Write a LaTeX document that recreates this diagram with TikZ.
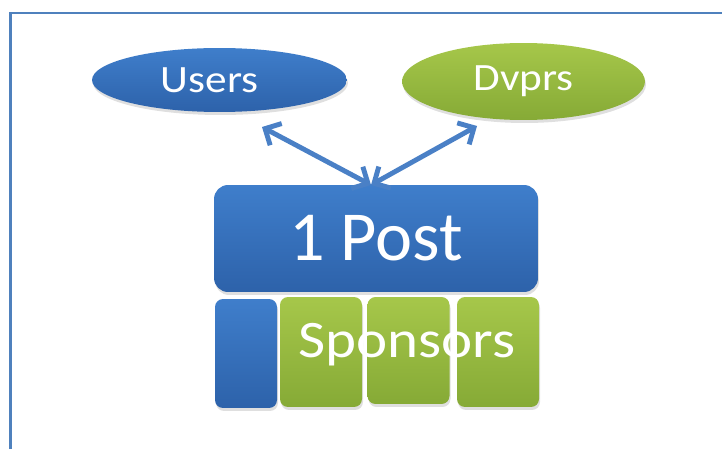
\documentclass[tikz,border=0pt]{standalone}
\usepackage{fontspec}
\setmainfont{Carlito}
\newfontfamily\wideface[FakeStretch=1.12]{Carlito}
\usepackage{tikz}
\usepackage{xcolor}
\usetikzlibrary{shapes}
\usetikzlibrary{shadows}
\usetikzlibrary{arrows.meta}
\usetikzlibrary{positioning}

\definecolor{frameblue}{HTML}{4F81BD}
\definecolor{boxbluetop}{HTML}{3F7ECB}
\definecolor{boxbluebot}{HTML}{2D62AA}
\definecolor{boxgreentop}{HTML}{A6C74A}
\definecolor{boxgreenbot}{HTML}{86AA36}
\definecolor{arrowblue}{HTML}{4A80C6}

\tikzset{
  softshadow/.style={drop shadow={opacity=0.25, shadow xshift=0.02cm, shadow yshift=-0.06cm}},
  bluefill/.style={top color=boxbluetop, bottom color=boxbluebot, softshadow},
  greenfill/.style={top color=boxgreentop, bottom color=boxgreenbot, softshadow},
  oval/.style={ellipse, inner sep=0pt, text=white, font=\wideface\fontsize{22}{24}\selectfont},
  tile/.style={rounded corners=0.16cm, inner sep=0pt},
  link/.style={arrowblue, line width=2.8pt, {Straight Barb[length=7pt,width=14pt]}-{Straight Barb[length=7pt,width=14pt]}}
}

\begin{document}
\begin{tikzpicture}[x=0.02cm, y=-0.02cm]
\useasboundingbox (0,0) rectangle (722,449);

%frame
\draw[frameblue, line width=1.15pt] (10.5,449) -- (10.5,13) -- (722,13);

%top
\node[oval, bluefill, minimum width=5.1cm, minimum height=1.28cm] (users) at (219.5,80) {\hspace*{-0.4cm}Users};
\node[oval, greenfill, minimum width=4.86cm, minimum height=1.54cm] (dvprs) at (523.5,81.5) {Dvprs};

%post
\node[bluefill, rounded corners=0.28cm, minimum width=6.48cm, minimum height=2.14cm,
      text=white, font=\fontsize{40}{44}\selectfont] (post) at (376,238.5) {1 Post};

%bottom row
\node[tile, bluefill, minimum width=1.24cm, minimum height=2.18cm] (slot) at (246,353.5) {};
\foreach \n/\x/\y/\h in {s1/321/352/2.2, s2/408.5/350.5/2.14, s3/498/352/2.2}
  \node[tile, greenfill, minimum width=1.64cm, minimum height=\h cm] (\n) at (\x,\y) {};
\node[anchor=base, inner sep=0pt, text=white, font=\wideface\fontsize{30}{33}\selectfont]
  (sponsors) at (407,357) {Sponsors};

%links
\coordinate (hub) at (371,185);
\coordinate (ua) at (262,127);
\coordinate (da) at (477,126);
\draw[link] (ua) -- (hub);
\draw[link] (da) -- (hub);
\end{tikzpicture}
\end{document}
